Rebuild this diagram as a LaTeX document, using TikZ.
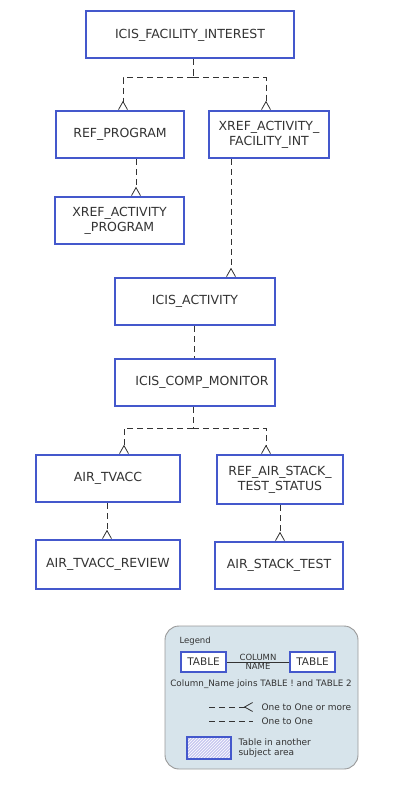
\documentclass[tikz,border=0pt]{standalone}
\usepackage{fontspec}
\setmainfont{DejaVu Sans}
\usetikzlibrary{arrows.meta,patterns}
\definecolor{tblue}{RGB}{68,88,204}
\definecolor{tgray}{RGB}{51,51,51}
\definecolor{legfill}{RGB}{215,228,235}
\definecolor{lav}{RGB}{200,200,240}

\begin{document}
\begin{tikzpicture}[x=1pt, y=1pt, font=\fontsize{12.5}{15}\selectfont, text=tgray]
    \tikzset{table/.style={draw=tblue, line width=2pt, fill=white, align=center,
      inner sep=2pt, minimum height=47pt},
      rel/.style={draw=tgray, line width=0.8pt, dash pattern=on 6pt off 4pt},
      many/.style={rel, -{Straight Barb[reversed, length=8pt, width=9pt, line width=0.8pt]}}}
    \useasboundingbox (0,0) rectangle (401,-800);

    % tables
    \node[table, minimum width=208pt] (fac) at (190,-35) {ICIS\_FACILITY\_INTEREST};
    \node[table, minimum width=128pt] (refprog) at (120,-134.5) {REF\_PROGRAM};
    \node[table, minimum width=120pt] (xfac) at (269,-134.5) {XREF\_ACTIVITY\_\\FACILITY\_INT};
    \node[table, minimum width=129pt] (xprog) at (119.5,-220.5) {XREF\_ACTIVITY\\\_PROGRAM};
    \node[table, minimum width=160pt] (act) at (195,-301.5) {ICIS\_ACTIVITY};
    \node[table, minimum width=160pt] (comp) at (195,-382.5) {\hspace{14pt}ICIS\_COMP\_MONITOR};
    \node[table, minimum width=144pt] (tvacc) at (108,-478.5) {AIR\_TVACC};
    \node[table, minimum width=126pt, minimum height=49pt] (stackst) at (280,-479.5) {REF\_AIR\_STACK\_\\TEST\_STATUS};
    \node[table, minimum width=144pt, minimum height=49pt] (review) at (108,-564.5) {AIR\_TVACC\_REVIEW};
    \node[table, minimum width=128pt] (stack) at (279,-565.5) {AIR\_STACK\_TEST};

    % relationships
    \draw[rel] ([xshift=3pt]fac.south) -- ++(0,-18) coordinate (fj);
    \draw[many] (fj) -| ([xshift=3pt]refprog.north);
    \draw[many] (fj) -| ([xshift=-3pt]xfac.north);
    \draw[many] ([xshift=16pt]refprog.south) -- ([xshift=16pt]refprog.south |- xprog.north);
    \draw[many] ([xshift=-38pt]xfac.south) -- ([xshift=-38pt]xfac.south |- act.north);
    \draw[rel] ([xshift=-1pt]act.south) -- ([xshift=-1pt]comp.north);
    \draw[rel] ([xshift=-2pt]comp.south) -- ++(0,-21) coordinate (cj);
    \draw[many] (cj) -| ([xshift=16pt]tvacc.north);
    \draw[many] (cj) -| ([xshift=-14pt]stackst.north);
    \draw[many] ([xshift=-1pt]tvacc.south) -- ([xshift=-1pt]tvacc.south |- review.north);
    \draw[many] (stackst.south) -- (stackst.south |- stack.north);

    % legend
    \node[draw=gray!80, line width=0.9pt, fill=legfill, rounded corners=14pt,
      minimum width=193pt, minimum height=143pt] (legend) at (261.5,-697.5) {};
    \node[anchor=west, font=\fontsize{8.5}{10}\selectfont] (legtitle) at (176,-641) {Legend};
    \node[table, minimum width=45pt, minimum height=20pt, font=\fontsize{10.5}{12}\selectfont] (t1) at (203.5,-662) {TABLE};
    \node[table, minimum width=45pt, minimum height=20pt, font=\fontsize{10.5}{12}\selectfont] (t2) at (312.5,-662) {TABLE};
    \draw[tgray, line width=0.7pt] (t1) -- node[above=-2.5pt, font=\fontsize{8.5}{10}\selectfont]{COLUMN}
      node[below=-2.5pt, font=\fontsize{8.5}{10}\selectfont]{NAME} (t2);
    \node[font=\fontsize{8.8}{10}\selectfont] (joins) at (261,-684) {Column\_Name joins TABLE ! and TABLE 2};
    \coordinate (m1) at (209,-707);
    \coordinate (m2) at (253,-707);
    \coordinate (o1) at (209,-721);
    \coordinate (o2) at (253,-721);
    \draw[many] (m1) -- (m2);
    \draw[rel] (o1) -- (o2);
    \node[anchor=west, font=\fontsize{9}{10}\selectfont] (manytxt) at (258,-707) {One to One or more};
    \node[anchor=west, font=\fontsize{9}{10}\selectfont] (onetxt) at (258,-721) {One to One};
    \node[draw=tblue, line width=2pt, preaction={fill=lav}, pattern=north east lines,
      pattern color=white, minimum width=44pt, minimum height=22pt] (other) at (209,-748) {};
    \node[anchor=west, align=left, font=\fontsize{9}{10.5}\selectfont] (othertxt) at (235,-748) {Table in another\\subject area};
\end{tikzpicture}
\end{document}
